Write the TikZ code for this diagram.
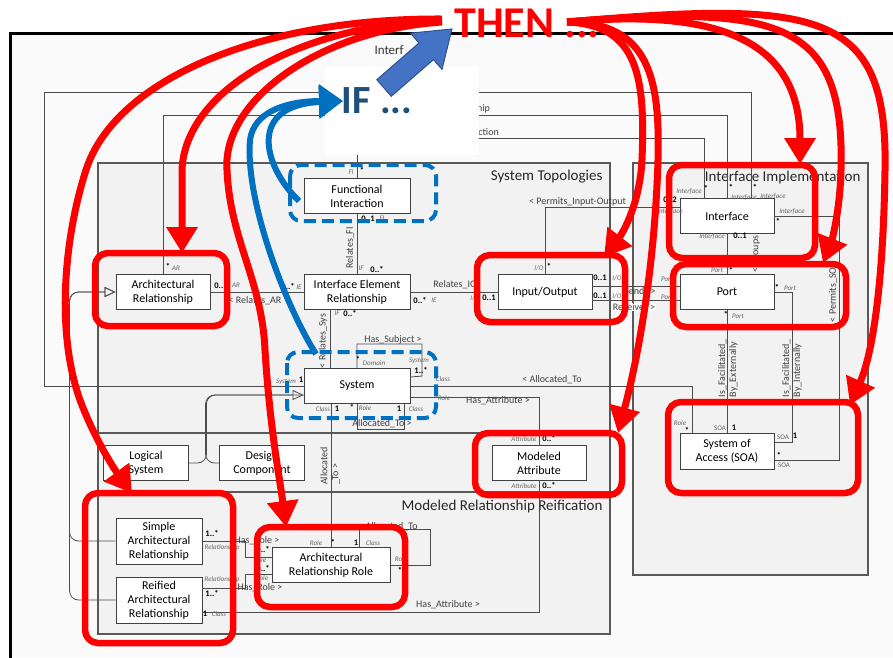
\documentclass[tikz,border=0pt]{standalone}
\usepackage{fontspec}
\setmainfont{Carlito}
\usetikzlibrary{arrows.meta}

\definecolor{ifblue}{HTML}{0070C0}
\definecolor{ifdark}{HTML}{1F4E79}
\definecolor{arrblue}{HTML}{4472C4}
\definecolor{arredge}{HTML}{2F528F}

\tikzset{
  cls/.style={rectangle, draw=black!75, fill=white, line width=0.9pt, align=center,
    font=\fontsize{12}{14}\selectfont, inner sep=1pt},
  pkg/.style={draw=black!65, fill=black!5, line width=1.2pt},
  conn/.style={draw=black!70, line width=0.8pt},
  gen/.style={conn, -{Triangle[open, length=11pt, width=10pt]}, rounded corners=9pt},
  asc/.style={font=\fontsize{10}{11}\selectfont, text=black!75, inner sep=1pt},
  role/.style={font=\fontsize{7}{7}\selectfont\itshape, text=black!60, inner sep=0.5pt},
  mult/.style={font=\fontsize{8.5}{9}\selectfont\bfseries, inner sep=0.5pt},
  ttl/.style={font=\fontsize{15}{17}\selectfont, text=black!85},
  hot/.style={draw=red, line width=6.5pt, rounded corners=13pt},
  then/.style={draw=red, line width=7pt, -{Triangle[length=26pt, width=30pt]}},
  ifbox/.style={draw=ifblue, line width=4pt, dash pattern=on 12pt off 6pt, rounded corners=11pt},
  ifline/.style={draw=ifblue, line width=6pt},
}

\begin{document}
\begin{tikzpicture}[x=1pt, y=-1pt]
  \useasboundingbox (0,0) rectangle (893,657);

  % frame and packages
  \fill[black!2] (10,33) rectangle (893,657);
  \draw[line width=3pt] (10,660) -- (10,33) -- (895,33);
  \draw[pkg] (98,163) rectangle (610,634);
  \draw[pkg] (633,163) rectangle (868,575);
  \draw[draw=black!65, line width=1.2pt] (98,433) -- (610,433);
  \draw[pkg] (98,492) rectangle (610,634);
  \node[ttl, anchor=east] (tST) at (606,177) {System Topologies};
  \node[ttl, anchor=east] (tII) at (864,177) {Interface Implementation};
  \node[ttl, anchor=east] (tMRR) at (606,506) {Modeled Relationship Reification};

  % classes
  \node[cls, minimum width=106pt, minimum height=35pt] (FI) at (357,196) {Functional\\Interaction};
  \node[cls, minimum width=94pt, minimum height=35pt] (AR) at (163,292) {Architectural\\Relationship};
  \node[cls, minimum width=106pt, minimum height=35pt] (IER) at (357,292) {Interface Element\\Relationship};
  \node[cls, minimum width=94pt, minimum height=35pt] (IO) at (545,292) {Input/Output};
  \node[cls, minimum width=94pt, minimum height=35pt] (Iface) at (727,216) {Interface};
  \node[cls, minimum width=94pt, minimum height=35pt] (Port) at (727,292) {Port};
  \node[cls, minimum width=106pt, minimum height=35pt] (Sys) at (357,386) {System};
  \node[cls, minimum width=85pt, minimum height=35pt] (LS) at (146,463) {Logical\\System};
  \node[cls, minimum width=85pt, minimum height=35pt] (DC) at (262,463) {Design\\Component};
  \node[cls, minimum width=94pt, minimum height=35pt] (MA) at (539,463) {Modeled\\Attribute};
  \node[cls, minimum width=94pt, minimum height=36pt] (SOA) at (727,451) {System of\\Access (SOA)};
  \node[cls, minimum width=86pt, minimum height=46pt] (SAR) at (159,541) {Simple\\Architectural\\Relationship};
  \node[cls, minimum width=86pt, minimum height=46pt] (RAR) at (159,600) {Reified\\Architectural\\Relationship};
  \node[cls, minimum width=118pt, minimum height=35pt] (ARR) at (331,565) {Architectural\\Relationship Role};

  % associations
  \draw[conn] (FI.south) -- (IER.north);
  \draw[conn] (FI.north) -- ++(0,-39.5) -| ([xshift=-23pt]Iface.north);
  \draw[conn] (AR.north) -- ++(0,-158.5) -| (Iface.north);
  \draw[conn] (Sys.west) -- ++(-259,0) -- ++(0,-294) -| ([xshift=24pt]Iface.north);
  \draw[conn] (AR.east) -- (IER.west);
  \draw[conn] (IER.east) -- (IO.west);
  \draw[conn] ([xshift=-27pt]IER.south) -- ([xshift=-27pt]Sys.north);
  \draw[conn] (Sys.north) -- ++(0,-24) -- ++(65,0) -- ++(0,32) -- ([yshift=9pt]Sys.east);
  \draw[conn] (Sys.south) -- ++(0,25) -| ([xshift=47pt]Sys.south);
  \draw[conn] ([xshift=-26pt]Sys.south) -- (ARR.north);
  \draw[conn] (Sys.east) -| ([xshift=-35pt]SOA.north);
  \draw[conn] ([yshift=-11pt]Sys.east) -| (MA.north);
  \draw[gen] (LS.east) -- ++(17.5,0) |- ([yshift=-9pt]Sys.west);
  \draw[conn, rounded corners=9pt] (DC.west) -- ++(-13.5,0) |- ([yshift=-9pt]Sys.west);
  \draw[gen] (SAR.west) -- ++(-46,0) |- (AR.west);
  \draw[gen] (RAR.west) -- ++(-46,0) |- (AR.west);
  \draw[conn] (SAR.east) -- ++(43,0) |- ([yshift=8pt]ARR.west);
  \draw[conn] ([yshift=12pt]RAR.east) -- ++(43,0) |- ([yshift=-9pt]ARR.west);
  \draw[conn] ([yshift=-12pt]RAR.east) -| (MA.south);
  \draw[conn] ([xshift=28pt]ARR.north) -- ++(0,-18) -- ++(71,0) |- (ARR.east);
  \draw[conn] (IO.north) |- ([yshift=9pt]Iface.west);
  \draw[conn] (Iface.south) -- (Port.north);
  \draw[conn] ([yshift=6pt]IO.east) -- ([yshift=6pt]Port.west);
  \draw[conn] ([yshift=-8pt]IO.east) -- ([yshift=-8pt]Port.west);
  \draw[conn] (Port.south) -- (SOA.north);
  \draw[conn] (Port.east) -- ++(18,0) |- ([yshift=9pt]SOA.east);
  \draw[conn] (Iface.east) -- ++(65,0) |- ([yshift=-9pt]SOA.east);

  % association names
  \node[asc, anchor=east] (nRel) at (491,109) {Relationship};
  \node[asc, anchor=east] (nInt) at (500,132) {Interaction};
  \node[asc] (nRelAR) at (255,301) {< Relates\_AR};
  \node[asc] (nRelIO) at (455,285) {Relates\_IO};
  \node[asc, rotate=90] (nRelFI) at (350,244) {Relates\_FI >};
  \node[asc, rotate=90] (nRelSys) at (323,341) {< Relates\_Sys};
  \node[asc] (nSubj) at (393,340) {Has\_Subject >};
  \node[asc] (nAllS) at (382,424) {Allocated\_To >};
  \node[asc, rotate=90, align=left] (nAllR) at (330,466) {Allocated\\\_To >};
  \node[asc] (nAllSOA) at (552,380) {< Allocated\_To};
  \node[asc] (nAttS) at (498,401) {Has\_Attribute >};
  \node[asc] (nRole1) at (257,541) {Has\_Role >};
  \node[asc] (nRole2) at (260,588) {Has\_Role >};
  \node[asc] (nAttR) at (448,605) {Has\_Attribute >};
  \node[asc] (nAllA) at (388,527) {< Allocated\_To};
  \node[asc, anchor=west] (nPerm) at (528,202) {< Permits\_Input-Output};
  \node[asc] (nSend) at (640,291) {Sends >};
  \node[asc, fill=white] (nRecv) at (634,307) {Receives >};
  \node[asc, rotate=90] (nGrp) at (756,254) {< Groups};
  \node[asc, rotate=90] (nPSOA) at (833,292) {< Permits\_SOA};
  \node[asc, rotate=90, align=left] (nExt) at (728,368) {Is\_Facilitated\_\\By\_Externally};
  \node[asc, rotate=90, align=left] (nIntl) at (792,368) {Is\_Facilitated\_\\By\_Internally};

  % role names
  \foreach \x/\y/\t [count=\i] in {351/172/FI, 382/218/FI, 361/268/IF, 176/268/AR, 236/285/AR,
      299/287/IE, 434/300/IE, 475/298/{I/O}, 337/313/IF, 286/382/System, 374/363/Domain,
      419/361/System, 443/379/Class, 444/398/Role, 323/409/Class, 365/408/Role, 416/409/Class,
      524/439/Attribute, 524/486/Attribute, 222/548/Relationship, 260/560/Role,
      222/580/Relationship, 262/578/Role, 219/614/Class, 316/543/Role, 373/543/Class,
      401/559/Role, 539/268/{I/O}, 670/212/Interface, 689/192/Interface, 744/198/Interface,
      773/197/Interface, 792/212/Interface, 712/237/Interface, 717/270/Port, 667/279/Port,
      667/297/Port, 617/278/{I/O}, 617/296/{I/O}, 790/288/Port, 738/316/Port, 680/423/Role}
    \node[role] (rl\i) at (\x,\y) {\t};
  \foreach \x/\y [count=\i] in {720/428, 783/437, 784/465}
    \node[role, font=\fontsize{7}{7}\selectfont] (rs\i) at (\x,\y) {SOA};

  % multiplicities
  \foreach \x/\y/\t [count=\i] in {362/170/*, 368/219/0..1, 377/269/0..*, 168/266/*, 221/286/0..1,
      288/286/0..*, 420/300/0..*, 489/298/0..1, 350/313/0..*, 301/380/1, 358/359/*, 421/370/1..*,
      337/409/1, 352/407/*, 399/409/1, 549/438/0..*, 549/485/0..*, 212/533/1..*, 263/549/0..*,
      263/568/0..*, 212/593/1..*, 205/614/1, 333/542/*, 356/543/1, 400/570/*, 687/430/*,
      734/428/1, 795/436/1, 779/455/*, 731/270/*, 600/278/0..1, 600/296/0..1, 777/287/*,
      726/314/*, 740/236/0..1, 706/188/*, 731/187/*, 755/187/*, 778/221/*, 549/266/*, 670/200/0..2}
    \node[mult] (ml\i) at (\x,\y) {\t};

  % IF overlay
  \fill[white] (325,67) rectangle (479,155);
  \node[font=\fontsize{13}{13}\selectfont, text=black!80, anchor=west] (pkgT) at (371,50) {Interf};
  \begin{scope}[shift={(384,88)}, rotate=41]
    \filldraw[fill=arrblue, draw=arredge, line width=1pt]
      (0,-11) -- (56,-11) -- (56,-24) -- (90,0) -- (56,24) -- (56,11) -- (0,11) -- cycle;
  \end{scope}
  \node[font=\fontsize{40}{40}\selectfont\bfseries, text=ifdark] (IFt) at (377,101) {IF ...};
  \draw[ifbox] (290,165) rectangle (436,221);
  \draw[ifbox] (287,352) rectangle (436,418);
  \draw[ifline, -{Triangle[length=24pt, width=32pt]}]
    (299,201) .. controls (262,165) and (248,105) .. (343,101);
  \draw[ifline, -{Triangle[length=24pt, width=32pt]}]
    (316,354) .. controls (285,305) and (245,200) .. (250,140)
    .. controls (254,110) and (290,101) .. (343,101);

  % THEN overlay
  \draw[hot] (95,253) rectangle (227,326);
  \draw[hot] (477,255) rectangle (625,322);
  \draw[hot] (669,165) rectangle (815,258);
  \draw[hot] (673,264) rectangle (846,327);
  \draw[hot] (475,433) rectangle (622,495);
  \draw[hot] (668,402) rectangle (858,493);
  \draw[hot] (85,493) rectangle (233,643);
  \draw[hot] (257,527) rectangle (405,607);
  \node[font=\fontsize{44}{44}\selectfont\bfseries, text=red] (THEN) at (527,23) {THEN ...};
  \draw[then] (442,19) .. controls (260,18) and (115,80) .. (86,170)
    .. controls (65,235) and (55,330) .. (80,400) .. controls (95,440) and (115,470) .. (132,493);
  \draw[then] (442,20) .. controls (300,25) and (185,90) .. (182,170) -- (182,253);
  \draw[then] (442,22) .. controls (320,30) and (222,100) .. (227,170)
    .. controls (230,240) and (262,280) .. (265,350) .. controls (270,430) and (280,480) .. (286,527);
  \draw[then] (567,22) .. controls (640,25) and (645,80) .. (642,160)
    .. controls (640,200) and (625,230) .. (604,257);
  \draw[then] (567,22) .. controls (650,22) and (660,80) .. (658,160)
    .. controls (655,260) and (640,350) .. (618,433);
  \draw[then] (567,22) .. controls (700,10) and (800,30) .. (800,164);
  \draw[then] (567,22) .. controls (780,5) and (845,20) .. (841,170)
    .. controls (840,210) and (832,240) .. (823,263);
  \draw[then] (567,22) .. controls (820,0) and (888,10) .. (885,170)
    .. controls (883,300) and (870,360) .. (850,405);
\end{tikzpicture}
\end{document}
